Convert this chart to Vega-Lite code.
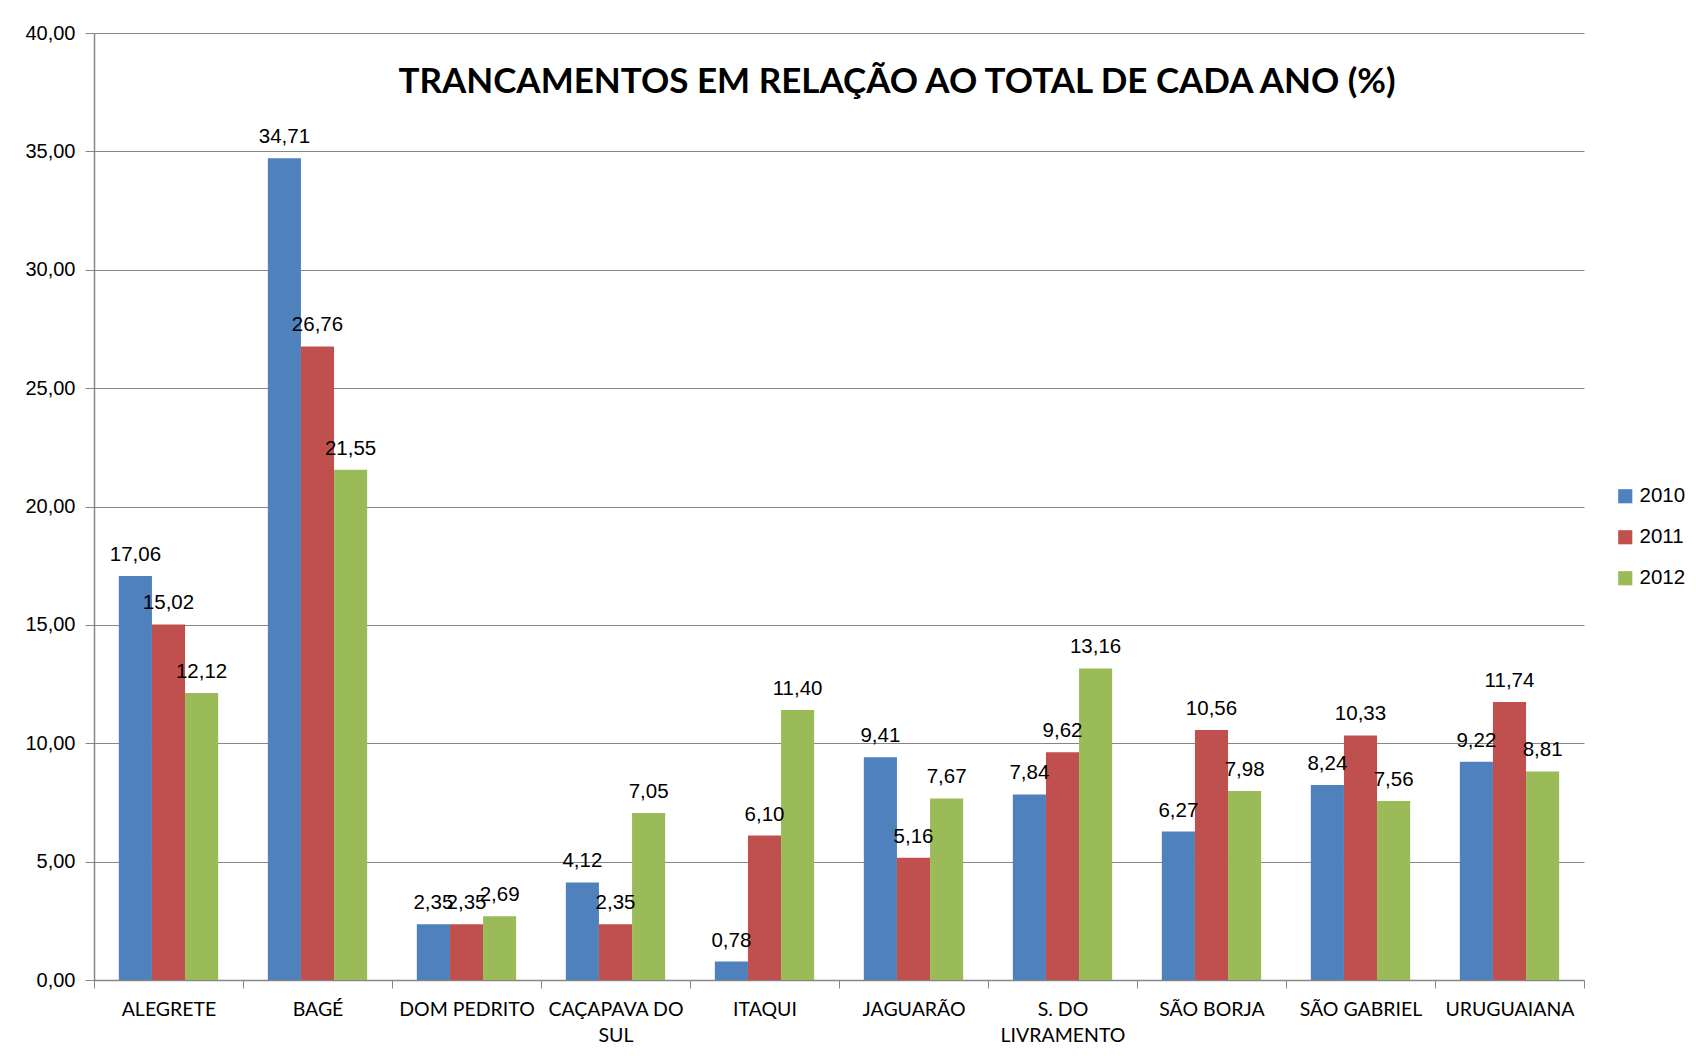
{
  "$schema": "https://vega.github.io/schema/vega-lite/v6.json",
  "autosize": {"type": "none"},
  "width": 1490,
  "height": 947,
  "padding": {"left": 94, "top": 33, "right": 112, "bottom": 79},
  "background": "white",
  "title": {
    "text": "TRANCAMENTOS EM RELAÇÃO AO TOTAL DE CADA ANO (%)",
    "anchor": "middle",
    "font": "Lato",
    "fontSize": 35,
    "fontWeight": "bold",
    "color": "black",
    "dx": 58,
    "dy": 81
  },
  "data": {
    "values": [
      {"campus": "ALEGRETE", "ano": "2010", "valor": 17.06},
      {"campus": "ALEGRETE", "ano": "2011", "valor": 15.02},
      {"campus": "ALEGRETE", "ano": "2012", "valor": 12.12},
      {"campus": "BAGÉ", "ano": "2010", "valor": 34.71},
      {"campus": "BAGÉ", "ano": "2011", "valor": 26.76},
      {"campus": "BAGÉ", "ano": "2012", "valor": 21.55},
      {"campus": "DOM PEDRITO", "ano": "2010", "valor": 2.35},
      {"campus": "DOM PEDRITO", "ano": "2011", "valor": 2.35},
      {"campus": "DOM PEDRITO", "ano": "2012", "valor": 2.69},
      {"campus": "CAÇAPAVA DO SUL", "ano": "2010", "valor": 4.12},
      {"campus": "CAÇAPAVA DO SUL", "ano": "2011", "valor": 2.35},
      {"campus": "CAÇAPAVA DO SUL", "ano": "2012", "valor": 7.05},
      {"campus": "ITAQUI", "ano": "2010", "valor": 0.78},
      {"campus": "ITAQUI", "ano": "2011", "valor": 6.10},
      {"campus": "ITAQUI", "ano": "2012", "valor": 11.40},
      {"campus": "JAGUARÃO", "ano": "2010", "valor": 9.41},
      {"campus": "JAGUARÃO", "ano": "2011", "valor": 5.16},
      {"campus": "JAGUARÃO", "ano": "2012", "valor": 7.67},
      {"campus": "S. DO LIVRAMENTO", "ano": "2010", "valor": 7.84},
      {"campus": "S. DO LIVRAMENTO", "ano": "2011", "valor": 9.62},
      {"campus": "S. DO LIVRAMENTO", "ano": "2012", "valor": 13.16},
      {"campus": "SÃO BORJA", "ano": "2010", "valor": 6.27},
      {"campus": "SÃO BORJA", "ano": "2011", "valor": 10.56},
      {"campus": "SÃO BORJA", "ano": "2012", "valor": 7.98},
      {"campus": "SÃO GABRIEL", "ano": "2010", "valor": 8.24},
      {"campus": "SÃO GABRIEL", "ano": "2011", "valor": 10.33},
      {"campus": "SÃO GABRIEL", "ano": "2012", "valor": 7.56},
      {"campus": "URUGUAIANA", "ano": "2010", "valor": 9.22},
      {"campus": "URUGUAIANA", "ano": "2011", "valor": 11.74},
      {"campus": "URUGUAIANA", "ano": "2012", "valor": 8.81}
    ]
  },
  "encoding": {
    "x": {
      "field": "campus",
      "type": "nominal",
      "sort": null,
      "scale": {"paddingInner": 0, "paddingOuter": 0},
      "axis": {
        "title": null,
        "labelAngle": 0,
        "labelFont": "Lato",
        "labelFontSize": 19.5,
        "labelColor": "black",
        "labelLineHeight": 26,
        "labelBaseline": "top",
        "labelPadding": 12,
        "tickBand": "extent",
        "tickSize": 8,
        "tickColor": "#868686",
        "domainColor": "#868686",
        "labelExpr": "datum.value == 'CAÇAPAVA DO SUL' ? ['CAÇAPAVA DO', 'SUL'] : (datum.value == 'S. DO LIVRAMENTO' ? ['S. DO', 'LIVRAMENTO'] : datum.value)"
      }
    },
    "xOffset": {
      "field": "ano",
      "type": "nominal",
      "scale": {"paddingInner": 0, "paddingOuter": 0.75}
    },
    "y": {
      "field": "valor",
      "type": "quantitative",
      "scale": {"domain": [0, 40], "nice": false},
      "axis": {
        "title": null,
        "values": [0, 5, 10, 15, 20, 25, 30, 35, 40],
        "format": ".2f",
        "labelFont": "Liberation Sans",
        "labelFontSize": 20,
        "labelColor": "black",
        "labelPadding": 10,
        "tickSize": 9,
        "tickColor": "#868686",
        "domainColor": "#868686",
        "gridColor": "#868686",
        "grid": true
      }
    }
  },
  "layer": [
    {
      "mark": {"type": "bar"},
      "encoding": {
        "color": {
          "field": "ano",
          "type": "nominal",
          "scale": {"domain": ["2010", "2011", "2012"], "range": ["#4F81BD", "#C0504D", "#9BBB59"]},
          "legend": {
            "title": null,
            "orient": "none",
            "legendX": 1521,
            "legendY": 453,
            "symbolType": "square",
            "symbolSize": 200,
            "symbolStrokeWidth": 0,
            "labelFont": "Liberation Sans",
            "labelFontSize": 20.5,
            "labelColor": "black",
            "rowPadding": 20,
            "labelOffset": 4
          }
        }
      }
    },
    {
      "mark": {"type": "text", "baseline": "alphabetic", "dy": -15, "font": "Liberation Sans", "fontSize": 20.5, "color": "black"},
      "encoding": {
        "text": {"field": "valor", "type": "quantitative", "format": ".2f"}
      }
    }
  ],
  "config": {
    "locale": {"number": {"decimal": ",", "thousands": ".", "grouping": [3], "currency": ["", ""]}},
    "view": {"stroke": null},
    "axis": {"domainWidth": 1.5, "gridWidth": 1.2}
  }
}
